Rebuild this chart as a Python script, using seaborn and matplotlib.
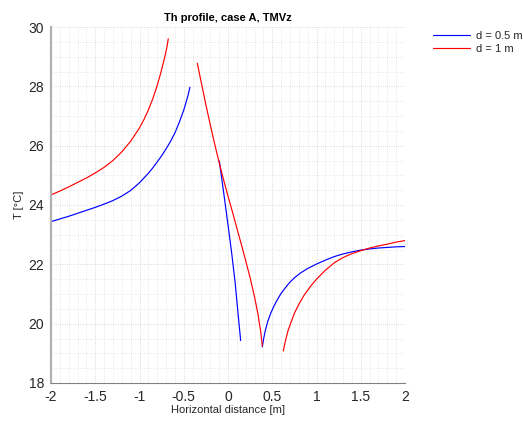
import numpy as np
import pandas as pd
import matplotlib
matplotlib.use("Agg")
import matplotlib.pyplot as plt
from matplotlib.ticker import MultipleLocator
from matplotlib.lines import Line2D
import seaborn as sns

# Temperature profile branches, depth d = 0.5 m
x_05_left = [-2.0, -1.9, -1.8, -1.7, -1.6, -1.5, -1.4, -1.3, -1.2, -1.1, -1.0, -0.9, -0.85,
             -0.8, -0.75, -0.7, -0.65, -0.6, -0.55, -0.5, -0.47, -0.45, -0.43]
t_05_left = [23.44, 23.53, 23.62, 23.72, 23.82, 23.92, 24.03, 24.15, 24.30, 24.49, 24.75, 25.07, 25.25,
             25.45, 25.66, 25.89, 26.14, 26.43, 26.79, 27.20, 27.50, 27.72, 27.97]
x_05_mid = [-0.098, -0.071, -0.04, 0.0, 0.04, 0.08, 0.11, 0.143]
t_05_mid = [25.48, 24.90, 24.22, 23.33, 22.42, 21.40, 20.45, 19.43]
x_05_right = [0.388, 0.40, 0.42, 0.45, 0.48, 0.52, 0.56, 0.60, 0.65, 0.70, 0.76, 0.82, 0.90, 1.0,
              1.1, 1.2, 1.3, 1.4, 1.5, 1.6, 1.7, 1.8, 1.9, 2.0]
t_05_right = [19.22, 19.45, 19.75, 20.08, 20.33, 20.60, 20.82, 21.02, 21.22, 21.40, 21.57, 21.71, 21.86, 22.01,
              22.14, 22.26, 22.35, 22.42, 22.48, 22.52, 22.55, 22.57, 22.59, 22.60]

# Temperature profile branches, depth d = 1 m
x_1_left = [-2.0, -1.9, -1.8, -1.7, -1.6, -1.5, -1.4, -1.3, -1.2, -1.1, -1.0, -0.95, -0.9,
            -0.85, -0.8, -0.76, -0.72, -0.69, -0.675]
t_1_left = [24.34, 24.47, 24.61, 24.76, 24.91, 25.08, 25.27, 25.50, 25.79, 26.15, 26.60, 26.88, 27.20,
            27.58, 28.03, 28.45, 28.92, 29.32, 29.60]
x_1_mid = [-0.347, -0.30, -0.25, -0.20, -0.15, -0.10, -0.05, 0.0, 0.05, 0.10, 0.15, 0.20, 0.25,
           0.30, 0.34, 0.37, 0.388]
t_1_mid = [28.78, 28.10, 27.38, 26.70, 26.05, 25.43, 24.85, 24.30, 23.77, 23.22, 22.68, 22.12, 21.55,
           20.90, 20.30, 19.72, 19.25]
x_1_right = [0.625, 0.64, 0.66, 0.68, 0.71, 0.75, 0.80, 0.86, 0.93, 1.0, 1.1, 1.2, 1.3, 1.4, 1.5,
             1.6, 1.7, 1.8, 1.9, 2.0]
t_1_right = [19.08, 19.30, 19.55, 19.78, 20.03, 20.35, 20.65, 20.96, 21.25, 21.50, 21.80, 22.05, 22.23,
             22.36, 22.46, 22.55, 22.62, 22.68, 22.75, 22.80]

labels = ["d = 0.5 m", "d = 1 m"]
colors = ["#0000ff", "#ff0000"]
x_ticks = ["-2", "-1.5", "-1", "-0.5", "0", "0.5", "1", "1.5", "2"]
y_ticks = ["18", "20", "22", "24", "26", "28", "30"]

branches = [
    (labels[0], "b05_left", x_05_left, t_05_left),
    (labels[0], "b05_mid", x_05_mid, t_05_mid),
    (labels[0], "b05_right", x_05_right, t_05_right),
    (labels[1], "b1_left", x_1_left, t_1_left),
    (labels[1], "b1_mid", x_1_mid, t_1_mid),
    (labels[1], "b1_right", x_1_right, t_1_right),
]
df = pd.concat(
    [pd.DataFrame({"x": xs, "T": ts, "case": lab, "branch": br}) for lab, br, xs, ts in branches],
    ignore_index=True,
)

sns.set_style("white")
plt.rcParams["font.family"] = ["Liberation Sans", "DejaVu Sans"]

fig = plt.figure(figsize=(5.23, 4.21), dpi=100)
ax = fig.add_axes([51 / 523, 1 - 383 / 421, 354 / 523, 356 / 421])

sns.lineplot(data=df, x="x", y="T", hue="case", units="branch", estimator=None,
             sort=False, palette=dict(zip(labels, colors)), linewidth=0.85,
             legend=False, ax=ax)

ax.set_xlim(-2, 2)
ax.set_ylim(18, 30)
ax.set_xticks(np.arange(-2, 2.01, 0.5))
ax.set_xticklabels(x_ticks)
ax.set_yticks(np.arange(18, 30.01, 2))
ax.set_yticklabels(y_ticks)
ax.xaxis.set_minor_locator(MultipleLocator(0.1))
ax.yaxis.set_minor_locator(MultipleLocator(0.5))

ax.grid(True, which="major", linestyle=":", color="#cfcfcf", linewidth=0.6)
ax.grid(True, which="minor", linestyle=":", color="#e0e0e0", linewidth=0.6)
ax.set_axisbelow(True)

for s in ["top", "right"]:
    ax.spines[s].set_visible(False)
ax.spines["left"].set_color("#b0b0b0")
ax.spines["left"].set_linewidth(1.6)
ax.spines["bottom"].set_color("#808080")
ax.spines["bottom"].set_linewidth(0.8)

ax.tick_params(axis="both", which="major", direction="in", length=3.5, width=0.8,
               color="#404040", labelsize=10, labelcolor="#262626", pad=5)
ax.tick_params(axis="both", which="minor", length=0)

ax.set_xlabel("Horizontal distance [m]", fontsize=8, color="#262626", labelpad=1)
ax.set_ylabel("T [°C]", fontsize=8, color="#262626", labelpad=3)
ax.set_title("Th profile, case A, TMVz", fontsize=8, fontweight="bold", color="#000000", pad=4)

handles = [Line2D([0], [0], color=c, lw=0.85) for c in colors]
fig.legend(handles, labels, loc="upper left", bbox_to_anchor=(433 / 523, 1 - 31 / 421),
           frameon=False, fontsize=8, handlelength=3.3, handletextpad=0.6,
           labelspacing=0.3, borderaxespad=0, borderpad=0)

fig.savefig("out.png", dpi=100)
